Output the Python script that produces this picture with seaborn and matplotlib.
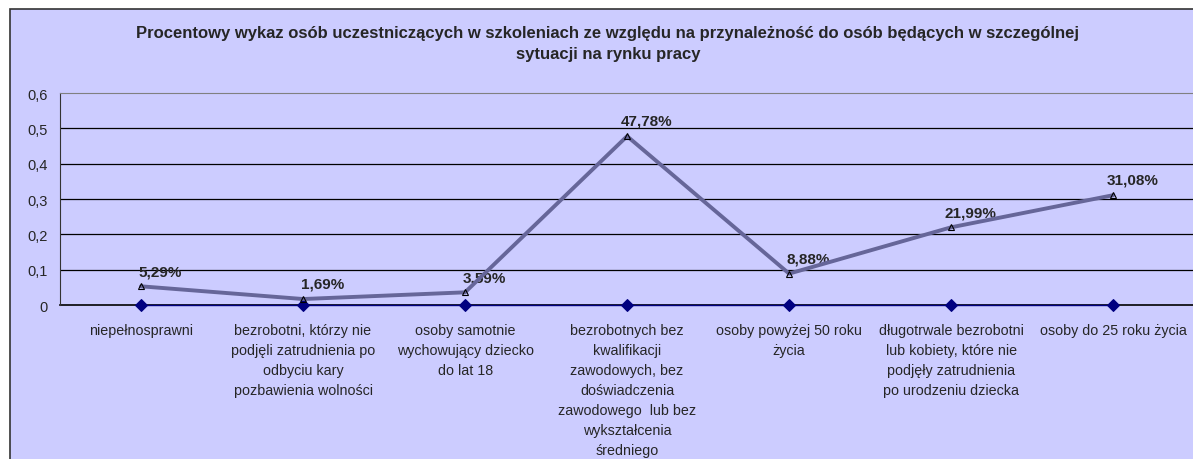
import pandas as pd
import matplotlib
matplotlib.use("Agg")
from matplotlib import pyplot as plt
from matplotlib.patches import Rectangle
from matplotlib.ticker import FixedLocator, FuncFormatter
import seaborn as sns

categories = [
    "niepełnosprawni",
    "bezrobotni, którzy nie\npodjęli zatrudnienia po\nodbyciu kary\npozbawienia wolności",
    "osoby samotnie\nwychowujący dziecko\ndo lat 18",
    "bezrobotnych bez\nkwalifikacji\nzawodowych, bez\ndoświadczenia\nzawodowego  lub bez\nwykształcenia\nśredniego",
    "osoby powyżej 50 roku\nżycia",
    "długotrwale bezrobotni\nlub kobiety, które nie\npodjęły zatrudnienia\npo urodzeniu dziecka",
    "osoby do 25 roku życia",
]
shares = [0.0529, 0.0169, 0.0359, 0.4778, 0.0888, 0.2199, 0.3108]
share_labels = ["5,29%", "1,69%", "3,59%", "47,78%", "8,88%", "21,99%", "31,08%"]
zeros = [0, 0, 0, 0, 0, 0, 0]
yticks = [0, 0.1, 0.2, 0.3, 0.4, 0.5, 0.6]

title = ("Procentowy wykaz osób uczestniczących w szkoleniach ze względu na przynależność do osób będących w szczególnej\n"
         "sytuacji na rynku pracy")

df = pd.DataFrame({"pos": range(len(categories)), "share": shares, "zero": zeros})

sns.set_style("white")
plt.rcParams["font.family"] = ["Liberation Sans", "DejaVu Sans"]

bg = "#CCCCFF"
fig = plt.figure(figsize=(11.93, 4.60), dpi=100)
fig.patch.set_facecolor("white")
# chart area frame
fig.patches.append(Rectangle((10 / 1193, -0.05), 1.2, 1 - 10 / 460 + 0.05,
                             transform=fig.transFigure, facecolor=bg,
                             edgecolor="#333333", linewidth=1.2, zorder=-10))

ax = fig.add_axes([60 / 1193, 1 - 306 / 460, 1 - 60 / 1193 + 0.001, 212 / 460])
ax.set_facecolor(bg)

for y in yticks[1:-1]:
    ax.axhline(y, color="black", linewidth=0.9, zorder=1)

sns.lineplot(ax=ax, data=df, x="pos", y="zero", color="#000080", linewidth=1,
             marker="D", markersize=6.5, markeredgecolor="#000080", zorder=3,
             clip_on=False)
sns.lineplot(ax=ax, data=df, x="pos", y="share", color="#666699", linewidth=2.8,
             marker="^", markersize=4.5, markerfacecolor="none",
             markeredgecolor="black", markeredgewidth=0.8, zorder=4)

for x, y, lab in zip(df["pos"], shares, share_labels):
    ax.annotate(lab, (x, y), xytext=(14, 11), textcoords="offset points",
                ha="center", va="center", fontsize=11, fontweight="bold")

ax.set_xlim(-0.5, 6.5)
ax.set_ylim(0, 0.6)
ax.set_yticks(yticks)
ax.yaxis.set_major_formatter(FuncFormatter(lambda v, p: ("%.1f" % v).replace(".", ",") if v else "0"))
ax.set_xticks(range(len(categories)))
ax.set_xticklabels(categories, fontsize=10.3, linespacing=1.55, va="top")
ax.xaxis.set_minor_locator(FixedLocator([i + 0.5 for i in range(-1, 7)]))
ax.tick_params(axis="x", which="major", length=0, pad=13)
ax.tick_params(axis="x", which="minor", length=5, color="#333333", direction="out")
ax.tick_params(axis="y", length=5, color="#333333", direction="out", labelsize=10.5, pad=4)
ax.set_xlabel("")
ax.set_ylabel("")

ax.spines["right"].set_visible(False)
ax.spines["top"].set_color("#808080")
ax.spines["left"].set_color("#333333")
ax.spines["bottom"].set_color("black")
ax.spines["bottom"].set_linewidth(1.2)
ax.spines["bottom"].set_zorder(2)

fig.text(608 / 1193, 1 - 44 / 460, title, ha="center", va="center",
         fontsize=12, fontweight="bold", linespacing=1.5)

fig.savefig("out.png", dpi=100, facecolor=fig.get_facecolor())
